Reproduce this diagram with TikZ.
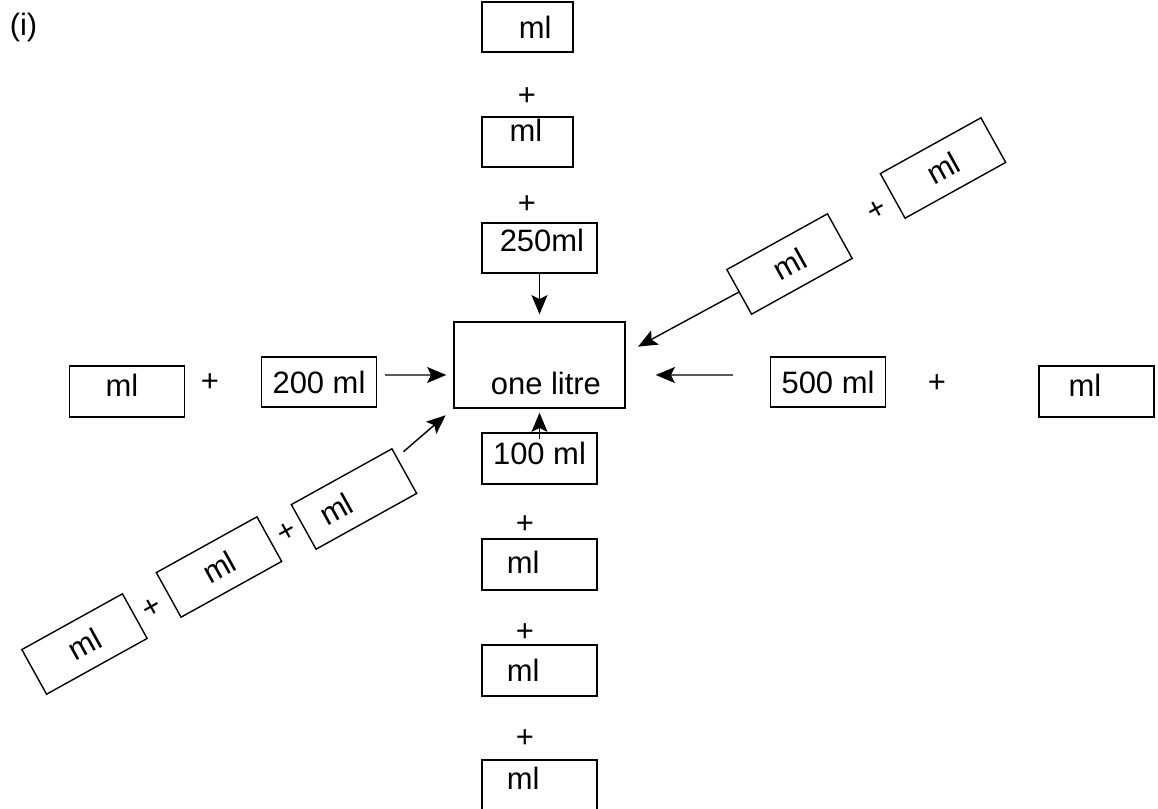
\documentclass[tikz,border=0pt]{standalone}
\usepackage{fontspec}
\setmainfont{Liberation Sans}
\usetikzlibrary{arrows.meta,calc}

\begin{document}
\begin{tikzpicture}[x=0.025cm,y=-0.025cm,line width=1pt,
  font=\fontsize{22}{26}\selectfont,
  box/.style={draw, inner sep=0pt, minimum width=2.875cm, minimum height=1.275cm},
  tilted/.style={box, rotate=29},
  arr/.style={-{Stealth[length=.48cm,width=.4cm,inset=.1cm]}}]
        \useasboundingbox (0,0) rectangle (1158,809);

        \node (part) at (23.5,27) {(i)};

        % the jug in the middle
        \node[box, minimum width=4.275cm, minimum height=2.15cm,
              label={[xshift=.16cm,yshift=-.45cm]center:one litre}] (centre) at (539.5,365) {};

        % top column
        \node[box, minimum width=2.275cm, minimum height=1.25cm,
              label={[xshift=.19cm]center:ml}] (t1) at (527.5,27) {};
        \node (tp1) at (527,97) {+};
        \node[box, minimum width=2.275cm, minimum height=1.25cm,
              label={[xshift=-.04cm,yshift=.3cm]center:ml}] (t2) at (527.5,142) {};
        \node (tp2) at (527,205) {+};
        \node[box, minimum height=1.25cm,
              label={[xshift=.06cm,yshift=.2cm]center:250ml}] (t3) at (539.5,248) {};
        \draw[arr, shorten >=.175cm] (t3.south) -- (centre.north);

        % left row
        \node[box, label={[xshift=-.125cm,yshift=.16cm]center:ml}] (l1) at (127,391.5) {};
        \node (lp1) at (210,383) {+};
        \node[box, minimum height=1.25cm] (l2) at (319,382) {200 ml};
        \draw[arr, shorten <=.2cm, shorten >=.175cm] ([yshift=.175cm]l2.east) -- ([yshift=-.25cm]centre.west);

        % right row
        \node[box, minimum height=1.25cm] (r1) at (828,382) {500 ml};
        \node (rp1) at (937,384) {+};
        \node[box, label={[xshift=-.29cm,yshift=.16cm]center:ml}] (r2) at (1096.5,391.5) {};
        \draw[arr, shorten <=.925cm, shorten >=.75cm] ([yshift=.175cm]r1.west) -- ([yshift=-.25cm]centre.east);

        % bottom column
        \node[box, label={[yshift=.12cm]center:100 ml}] (b1) at (539.5,458.5) {};
        \draw[arr, shorten >=.1cm] ([yshift=-.175cm]b1.north) -- (centre.south);
        \node (bp1) at (525,525) {+};
        \node[box, label={[xshift=-.41cm,yshift=.06cm]center:ml}] (b2) at (539.5,564.5) {};
        \node (bp2) at (525,633) {+};
        \node[box, label={[xshift=-.41cm]center:ml}] (b3) at (539.5,670.5) {};
        \node (bp3) at (525,739) {+};
        \node[box, label={[xshift=-.41cm,yshift=.19cm]center:ml}] (b4) at (539.5,785.5) {};

        % lower left slope
        \node[tilted] (ll1) at (84.5,644) {ml};
        \node[rotate=29] (llp1) at (152,608) {+};
        \node[tilted] (ll2) at (219,567) {ml};
        \node[rotate=29] (llp2) at (287,532) {+};
        \node[tilted] (ll3) at (354,499) {};
        \node[rotate=29] (ll3t) at (336,509) {ml};
        \draw[arr, shorten <=.2cm, shorten >=.25cm] ($(ll3.north east)!.2!(ll3.south east)$) -- (centre.south west);

        % upper right slope
        \node[tilted] (ur1) at (789.5,264) {ml};
        \node[rotate=29] (urp1) at (877,210) {+};
        \node[tilted] (ur2) at (943,168) {ml};
        \draw[arr, shorten >=.35cm] (ur1.west) -- ([yshift=-.8cm]centre.north east);
\end{tikzpicture}
\end{document}
